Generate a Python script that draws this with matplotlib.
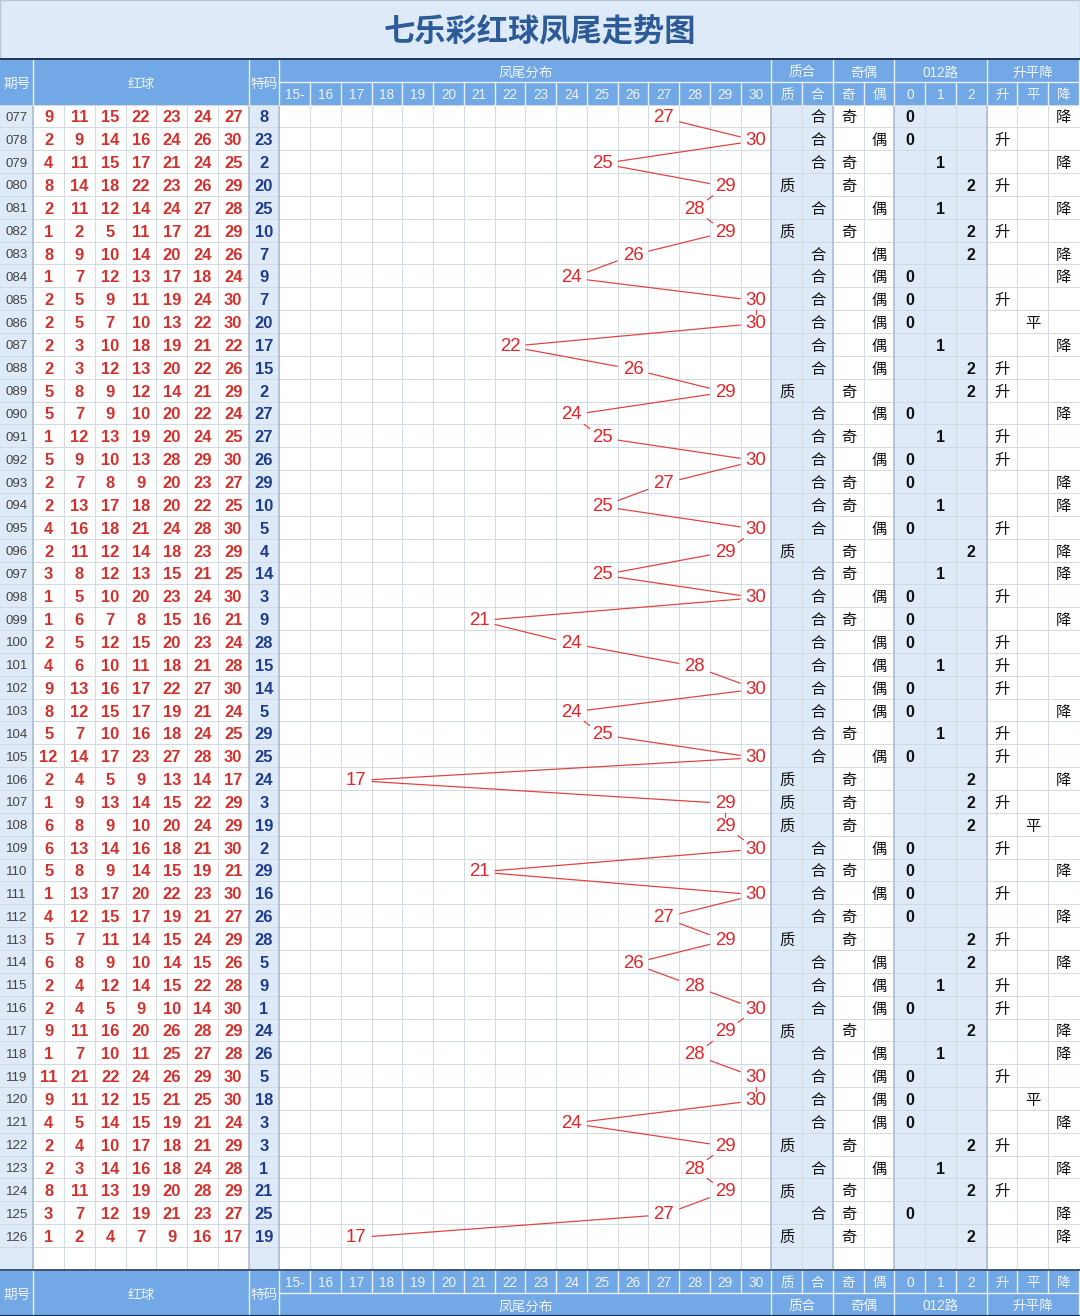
import matplotlib
matplotlib.use("Agg")
import matplotlib.pyplot as plt
from matplotlib.patches import Rectangle

# ---- data ----
issues = ["077", "078", "079", "080", "081", "082", "083", "084", "085", "086",
          "087", "088", "089", "090", "091", "092", "093", "094", "095", "096",
          "097", "098", "099", "100", "101", "102", "103", "104", "105", "106",
          "107", "108", "109", "110", "111", "112", "113", "114", "115", "116",
          "117", "118", "119", "120", "121", "122", "123", "124", "125", "126"]

red_balls = [
    [9, 11, 15, 22, 23, 24, 27], [2, 9, 14, 16, 24, 26, 30], [4, 11, 15, 17, 21, 24, 25],
    [8, 14, 18, 22, 23, 26, 29], [2, 11, 12, 14, 24, 27, 28], [1, 2, 5, 11, 17, 21, 29],
    [8, 9, 10, 14, 20, 24, 26], [1, 7, 12, 13, 17, 18, 24], [2, 5, 9, 11, 19, 24, 30],
    [2, 5, 7, 10, 13, 22, 30], [2, 3, 10, 18, 19, 21, 22], [2, 3, 12, 13, 20, 22, 26],
    [5, 8, 9, 12, 14, 21, 29], [5, 7, 9, 10, 20, 22, 24], [1, 12, 13, 19, 20, 24, 25],
    [5, 9, 10, 13, 28, 29, 30], [2, 7, 8, 9, 20, 23, 27], [2, 13, 17, 18, 20, 22, 25],
    [4, 16, 18, 21, 24, 28, 30], [2, 11, 12, 14, 18, 23, 29], [3, 8, 12, 13, 15, 21, 25],
    [1, 5, 10, 20, 23, 24, 30], [1, 6, 7, 8, 15, 16, 21], [2, 5, 12, 15, 20, 23, 24],
    [4, 6, 10, 11, 18, 21, 28], [9, 13, 16, 17, 22, 27, 30], [8, 12, 15, 17, 19, 21, 24],
    [5, 7, 10, 16, 18, 24, 25], [12, 14, 17, 23, 27, 28, 30], [2, 4, 5, 9, 13, 14, 17],
    [1, 9, 13, 14, 15, 22, 29], [6, 8, 9, 10, 20, 24, 29], [6, 13, 14, 16, 18, 21, 30],
    [5, 8, 9, 14, 15, 19, 21], [1, 13, 17, 20, 22, 23, 30], [4, 12, 15, 17, 19, 21, 27],
    [5, 7, 11, 14, 15, 24, 29], [6, 8, 9, 10, 14, 15, 26], [2, 4, 12, 14, 15, 22, 28],
    [2, 4, 5, 9, 10, 14, 30], [9, 11, 16, 20, 26, 28, 29], [1, 7, 10, 11, 25, 27, 28],
    [11, 21, 22, 24, 26, 29, 30], [9, 11, 12, 15, 21, 25, 30], [4, 5, 14, 15, 19, 21, 24],
    [2, 4, 10, 17, 18, 21, 29], [2, 3, 14, 16, 18, 24, 28], [8, 11, 13, 19, 20, 28, 29],
    [3, 7, 12, 19, 21, 23, 27], [1, 2, 4, 7, 9, 16, 17],
]

special = [8, 23, 2, 20, 25, 10, 7, 9, 7, 20,
           17, 15, 2, 27, 27, 26, 29, 10, 5, 4,
           14, 3, 9, 28, 15, 14, 5, 29, 25, 24,
           3, 19, 2, 29, 16, 26, 28, 5, 9, 1,
           24, 26, 5, 18, 3, 3, 1, 21, 25, 19]

tails = [27, 30, 25, 29, 28, 29, 26, 24, 30, 30,
         22, 26, 29, 24, 25, 30, 27, 25, 30, 29,
         25, 30, 21, 24, 28, 30, 24, 25, 30, 17,
         29, 29, 30, 21, 30, 27, 29, 26, 28, 30,
         29, 28, 30, 30, 24, 29, 28, 29, 27, 17]

zhihe = list("合合合质合质合合合合" "合合质合合合合合合质" "合合合合合合合合合质"
             "质质合合合合质合合合" "质合合合合质合质合质")
jiou = list("奇偶奇奇偶奇偶偶偶偶" "偶偶奇偶奇偶奇奇偶奇" "奇偶奇偶偶偶偶奇偶奇"
            "奇奇偶奇偶奇奇偶偶偶" "奇偶偶偶偶奇偶奇奇奇")
lu012 = [0, 0, 1, 2, 1, 2, 2, 0, 0, 0,
         1, 2, 2, 0, 1, 0, 0, 1, 0, 2,
         1, 0, 0, 0, 1, 0, 0, 1, 0, 2,
         2, 2, 0, 0, 0, 0, 2, 2, 1, 0,
         2, 1, 0, 0, 0, 2, 1, 2, 0, 2]
spj = list("降升降升降升降降升平" "降升升降升升降降升降" "降升降升升升降升升降"
           "升平升降升降升降升升" "降降升平降升降升降降")

tail_labels = ["15-", "16", "17", "18", "19", "20", "21", "22",
               "23", "24", "25", "26", "27", "28", "29", "30"]
sub_labels = tail_labels + ["质", "合", "奇", "偶", "0", "1", "2", "升", "平", "降"]
groups = [("凤尾分布", 9, 16), ("质合", 25, 2), ("奇偶", 27, 2), ("012路", 29, 3), ("升平降", 32, 3)]

# ---- layout ----
CJK = "Noto Sans CJK SC"
NUM = ["Liberation Sans", CJK]
HEAD_BLUE = "#72A8E6"
LIGHT = "#DEEAF7"
RED = "#D2322D"
GRID = "#D2D9E1"

W0 = 33.3
CW = (1079 - W0) / 34
edges = [0] + [W0 + i * CW for i in range(35)]
def cx(c):
    return (edges[c] + edges[c + 1]) / 2

TITLE_B = 59
H1, H2 = 82, 104.5
RH = 22.85
nrows = len(issues)
data_end = H2 + (nrows + 1) * RH
F1 = data_end + 23
F2 = 1316
DY = 2.0  # text sits a little low in its cell
def ry(i):
    return H2 + (i + 0.5) * RH

fig = plt.figure(figsize=(10.8, 13.16), dpi=100)
ax = fig.add_axes([0, 0, 1, 1])
ax.set_xlim(0, 1080)
ax.set_ylim(1316, 0)
ax.axis("off")

def box(x0, y0, x1, y1, fc, ec="none", lw=0, z=0):
    ax.add_patch(Rectangle((x0, y0), x1 - x0, y1 - y0, facecolor=fc, edgecolor=ec, lw=lw, zorder=z))

def put(x, y, s, **kw):
    ax.text(x, y + DY, s, ha="center", va="center", **kw)

# title
box(0, 0, 1080, TITLE_B, LIGHT, "#B8C6D6", 1)
put(540, 30, "七乐彩红球凤尾走势图", family=CJK, fontsize=22.5, fontweight="bold", color="#2D5B97")

# shaded columns in body
for c0, c1 in [(0, 1), (8, 9), (25, 27), (29, 32)]:
    box(edges[c0], H2, edges[c1], data_end, LIGHT, z=0)

# grid
for i in range(nrows + 2):
    y = H2 + i * RH
    ax.plot([0, 1080], [y, y], color=GRID, lw=0.7, zorder=1)
for c in range(1, 35):
    ax.plot([edges[c], edges[c]], [H2, data_end], color=GRID, lw=0.7, zorder=1)
for c in [1, 8, 9, 25, 27, 29, 32]:
    ax.plot([edges[c], edges[c]], [H2, data_end], color="#A9BCD2", lw=1.1, zorder=1)

# header and footer blocks
box(0, TITLE_B, 1080, H2, HEAD_BLUE, z=2)
box(0, data_end, 1080, F2, HEAD_BLUE, z=2)
hkw = dict(family=NUM, fontsize=9.8, color="#EEF4FC", zorder=4)

for (top, bot, sub_top, sub_bot, grp_top, grp_bot, split) in [
        (TITLE_B, H2, H1, H2, TITLE_B, H1, H1),
        (data_end, F2, data_end, F1, F1, F2, F1)]:
    put(cx(0), (top + bot) / 2, "期号", **hkw)
    put((edges[1] + edges[8]) / 2, (top + bot) / 2, "红球", **hkw)
    put(cx(8), (top + bot) / 2, "特码", **hkw)
    for c in [1, 8, 9]:
        ax.plot([edges[c]] * 2, [top, bot], color="#E8F0FA", lw=1, zorder=3)
    ax.plot([edges[9], 1080], [split, split], color="#E8F0FA", lw=1, zorder=3)
    for k, lab in enumerate(sub_labels):
        c = 9 + k
        put(cx(c), (sub_top + sub_bot) / 2, lab, **hkw)
        ax.plot([edges[c + 1]] * 2, [sub_top, sub_bot], color="#E8F0FA", lw=1, zorder=3)
    for name, c0, n in groups:
        put((edges[c0] + edges[c0 + n]) / 2, (grp_top + grp_bot) / 2, name, **hkw)
        ax.plot([edges[c0 + n]] * 2, [grp_top, grp_bot], color="#E8F0FA", lw=1, zorder=3)

ax.plot([0, 1080], [TITLE_B, TITLE_B], color="#1F3556", lw=1.4, zorder=5)
ax.plot([0, 1080], [data_end, data_end], color="#3D5575", lw=1.4, zorder=5)
ax.plot([0, 1080], [F2 - 0.5, F2 - 0.5], color="#1F3556", lw=1.6, zorder=5)

# body text
for i in range(nrows):
    y = ry(i)
    put(cx(0), y, issues[i], family=NUM, fontsize=9.5, color="#444444", zorder=4)
    for k, v in enumerate(red_balls[i]):
        put(cx(1 + k), y, str(v), family=NUM, fontsize=11.9, fontweight="bold", color=RED, zorder=4)
    put(cx(8), y, str(special[i]), family=NUM, fontsize=11.9, fontweight="bold", color="#1E3C8A", zorder=4)
    t = tails[i]
    put(cx(9 + max(t, 15) - 15), y, str(t), family=NUM, fontsize=13.4, color="#E0262A", zorder=4)
    put(cx(25 if zhihe[i] == "质" else 26), y, zhihe[i], family=CJK, fontsize=11, color="#111111", zorder=4)
    put(cx(27 if jiou[i] == "奇" else 28), y, jiou[i], family=CJK, fontsize=11, color="#111111", zorder=4)
    put(cx(29 + lu012[i]), y, str(lu012[i]), family=NUM, fontsize=11.5, fontweight="bold", color="#111111", zorder=4)
    put(cx(32 + "升平降".index(spj[i])), y, spj[i], family=CJK, fontsize=11, color="#111111", zorder=4)

# trend line between tail numbers, stopping at each label box
hw, hh = 16, 9.5
for i in range(nrows - 1):
    x0, y0 = cx(9 + max(tails[i], 15) - 15), ry(i) + DY
    x1, y1 = cx(9 + max(tails[i + 1], 15) - 15), ry(i + 1) + DY
    dx, dy = x1 - x0, y1 - y0
    f = min(hw / abs(dx) if dx else 1e9, hh / abs(dy))
    ax.plot([x0 + f * dx, x1 - f * dx], [y0 + f * dy, y1 - f * dy], color="#E04545", lw=0.9, zorder=3)

fig.savefig("out.png", dpi=100)
